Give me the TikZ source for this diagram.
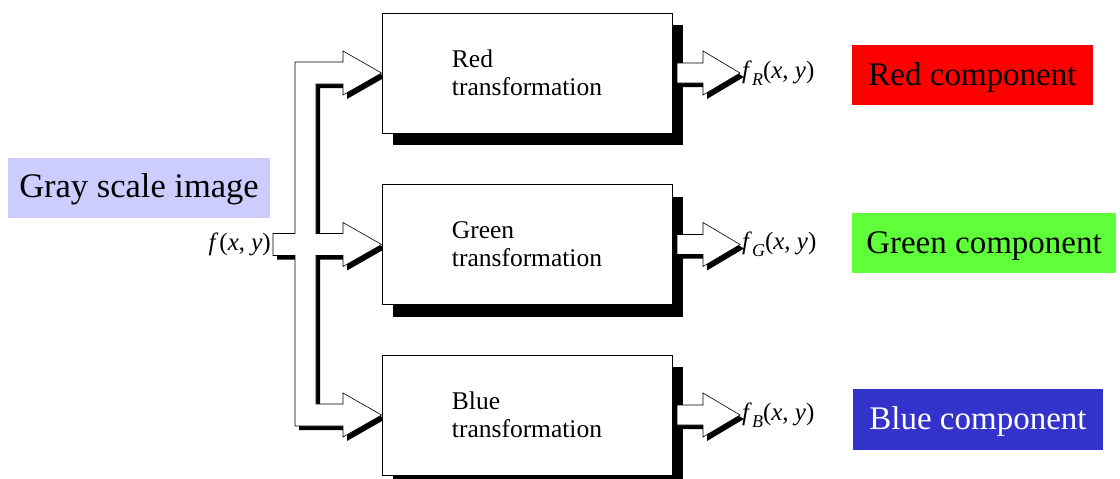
\documentclass[tikz,border=0pt]{standalone}
\usepackage{fontspec}
\setmainfont{Liberation Serif}
\usetikzlibrary{shadows,backgrounds}
\definecolor{lavc}{HTML}{CCCCFF}
\definecolor{redc}{HTML}{FF0000}
\definecolor{greenc}{HTML}{5FFF3A}
\definecolor{bluec}{HTML}{3333CC}
\begin{document}
\begin{tikzpicture}[x=1pt,y=-1pt,
  tbox/.style={draw=black,line width=0.9pt,fill=white,minimum width=290pt,minimum height=120pt,inner sep=0pt,align=left,font=\fontsize{25.5}{28}\selectfont,general shadow={fill=black,shadow xshift=11pt,shadow yshift=-12pt}},
  comp/.style={minimum height=60pt,inner sep=0pt,text height=22pt,text depth=2pt,font=\fontsize{33}{36}\selectfont},
  pipe/.style={draw=black,line width=0.6pt,fill=white,line join=miter,general shadow={fill=black,shadow xshift=4pt,shadow yshift=-4pt}},
  flab/.style={inner sep=2pt,font=\fontsize{25}{28}\selectfont}]
\clip (0,0) rectangle (1120,479);
% transformation boxes
\node[tbox] (b1) at (527,73) {Red\\transformation};
\node[tbox] (b2) at (527,244.5) {Green\\transformation};
\node[tbox] (b3) at (527,415) {Blue\\transformation};
% coloured labels
\node[comp,fill=lavc,minimum width=262pt,text height=23pt,text depth=5pt,font=\fontsize{34.5}{38}\selectfont] (gray) at (139,188) {Gray scale image};
\node[comp,fill=redc,minimum width=241pt] (rc) at (972.5,75) {Red component};
\node[comp,fill=greenc,minimum width=264pt] (gc) at (984,243) {Green component};
\node[comp,fill=bluec,text=white,minimum width=250pt,minimum height=61pt] (bc) at (978,419.5) {Blue component};
% signal labels
\node[flab,anchor=east] (fin) at (273,244.5) {\textit{f}\kern1pt(\textit{x}, \textit{y})};
\node[flab,anchor=west] (fR) at (740,73) {\textit{f}\raisebox{-0.3em}{\fontsize{18}{18}\selectfont\textit{R}}(\textit{x}, \textit{y})};
\node[flab,anchor=west] (fG) at (740,244.5) {\textit{f}\raisebox{-0.3em}{\fontsize{18}{18}\selectfont\textit{G}}(\textit{x}, \textit{y})};
\node[flab,anchor=west] (fB) at (740,415) {\textit{f}\raisebox{-0.3em}{\fontsize{18}{18}\selectfont\textit{B}}(\textit{x}, \textit{y})};
% input pipe
\begin{scope}[on background layer]
\path[pipe] ([yshift=11pt]fin.east) -- (295,233.5) -- (295,62) -- (343,62) -- (343,51) -- (b1.west)
  -- (343,95) -- (343,84) -- (316,84) -- (316,233.5) -- (343,233.5) -- (343,222.5) -- (b2.west)
  -- (343,266.5) -- (343,255.5) -- (316,255.5) -- (316,404) -- (343,404) -- (343,393) -- (b3.west)
  -- (343,437) -- (343,426) -- (295,426) -- (295,255.5) -- ([yshift=-11pt]fin.east) -- cycle;
\end{scope}
% output arrows
\path[pipe] (677,63) -- (703,63) -- (703,51) -- (fR.west) -- (703,95) -- (703,83) -- (677,83) -- cycle;
\path[pipe] (677,234.5) -- (703,234.5) -- (703,222.5) -- (fG.west) -- (703,266.5) -- (703,254.5) -- (677,254.5) -- cycle;
\path[pipe] (677,405) -- (703,405) -- (703,393) -- (fB.west) -- (703,437) -- (703,425) -- (677,425) -- cycle;
\end{tikzpicture}
\end{document}
